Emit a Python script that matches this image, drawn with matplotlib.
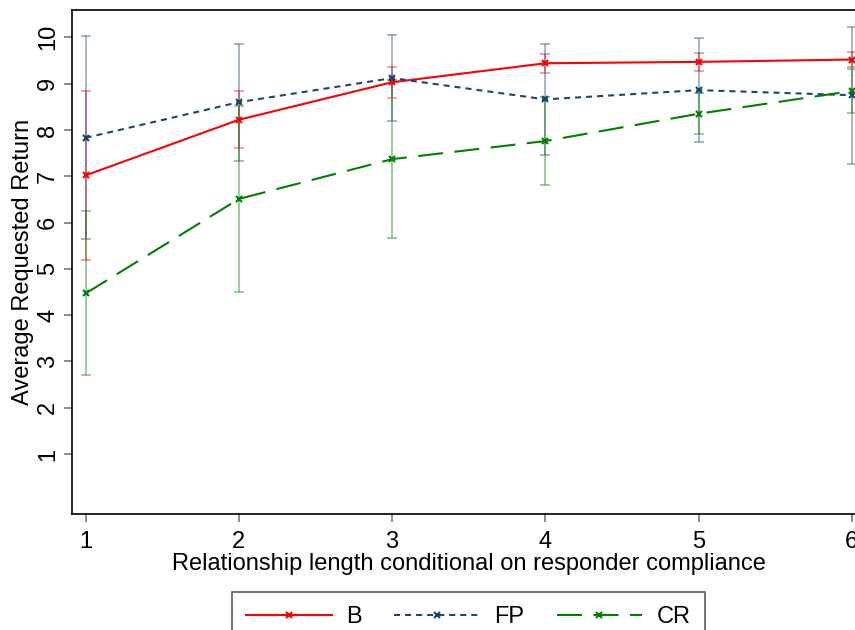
import numpy as np
import matplotlib
matplotlib.use("Agg")
import matplotlib.pyplot as plt

plt.rcParams["font.family"] = ["Liberation Sans", "DejaVu Sans"]

# relationship length (x) and mean requested return per treatment
lengths = [1, 2, 3, 4, 5, 6]
b_mean = [7.02, 8.22, 9.03, 9.44, 9.47, 9.52]
b_err = [1.83, 0.62, 0.34, 0.20, 0.19, 0.16]
fp_mean = [7.83, 8.60, 9.12, 8.66, 8.86, 8.75]
fp_err = [2.19, 1.26, 0.92, 1.20, 1.13, 1.48]
cr_mean = [4.47, 6.51, 7.37, 7.76, 8.35, 8.84]
cr_err = [1.77, 2.01, 1.70, 0.95, 0.44, 0.48]

series_names = ["B", "FP", "CR"]
y_ticks = [1, 2, 3, 4, 5, 6, 7, 8, 9, 10]

fig = plt.figure(figsize=(8.55, 6.3), dpi=100)
# right edge runs past the figure, like the cropped original
ax = fig.add_axes([0.0839, 0.1837, 0.9287, 0.8004])

styles = [
    ("#ff0000", "-"),
    ("#1a476f", (0, (2.9, 2.4))),
    ("#008000", (0, (12, 5.5))),
]
means = [b_mean, fp_mean, cr_mean]
errs = [b_err, fp_err, cr_err]

# error bars first, lighter, underneath the lines
for (color, ls), m, e in zip(styles, means, errs):
    ax.errorbar(lengths, m, yerr=e, fmt="none", ecolor=color, alpha=0.5,
                elinewidth=1.1, capsize=3.6, capthick=1.1, zorder=2)

for name, (color, ls), m in zip(series_names, styles, means):
    ax.plot(lengths, m, color=color, linestyle=ls, linewidth=1.5,
            marker="x", markersize=5, markeredgewidth=1.5,
            label=name, zorder=3)

ax.set_xlim(0.909, 6.091)
ax.set_ylim(-0.30, 10.59)
ax.set_xticks(lengths)
ax.set_yticks(y_ticks)
ax.tick_params(axis="both", direction="out", length=6, width=1.2,
               color="#777777", labelsize=17)
ax.tick_params(axis="x", pad=6)
ax.tick_params(axis="y", labelrotation=90, pad=3)
for lbl in ax.get_yticklabels():
    lbl.set_va("center")

for sp in ax.spines.values():
    sp.set_color("black")
    sp.set_linewidth(1.2)

ax.set_xlabel("Relationship length conditional on responder compliance",
              fontsize=17, labelpad=0)
ax.set_ylabel("Average Requested Return", fontsize=17, labelpad=2)

leg = fig.legend(loc="upper center", bbox_to_anchor=(0.548, 0.0603),
                 ncol=3, fontsize=17, frameon=True, fancybox=False,
                 handlelength=3.64, columnspacing=1.36, handletextpad=0.6,
                 borderpad=0.6, borderaxespad=0)
leg.get_frame().set_edgecolor("#333333")
leg.get_frame().set_linewidth(1.2)

fig.savefig("out.png", dpi=100)
